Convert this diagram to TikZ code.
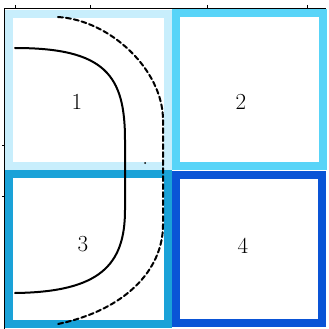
\documentclass[tikz,border=0pt]{standalone}
\usepackage{xcolor}
\definecolor{paleblue}{RGB}{200,238,252}
\definecolor{skyblue}{RGB}{88,212,248}
\definecolor{midblue}{RGB}{26,162,216}
\definecolor{deepblue}{RGB}{10,84,214}
\begin{document}
\begin{tikzpicture}[x=1pt,y=-1pt,
    cell/.style={line width=8pt},
    num/.style={font=\fontsize{23}{27}\selectfont},
    bound/.style={line width=2pt,line cap=round}]
	\useasboundingbox (0,0) rectangle (329,329);
	\fill[white] (0,0) rectangle (329,329);
	
	\draw[line width=1pt] (4,329) -- (4,9) -- (326,9);
	\foreach \t in {15,90,207,307} \draw[line width=1pt] (\t,5) -- (\t,9);
	\foreach \t in {145,196} \draw[line width=1pt] (2,\t) -- (4,\t);
	
	\draw[cell,paleblue] (9,14) rectangle (168,166);
	\draw[cell,skyblue] (176,13) rectangle (323,166);
	\draw[cell,midblue] (9,174) rectangle (168,324);
	\draw[cell,deepblue] (176,175) rectangle (322,323);
	
	\node[num] (one) at (77,102) {1};
	\node[num] (two) at (241,102) {2};
	\node[num] (three) at (83,244) {3};
	\node[num] (four) at (243,246) {4};
	
	\draw[bound] (15,48) .. controls (105,48) and (125,75) .. (125,140) -- (125,210)
		.. controls (125,265) and (100,292) .. (15,293);
	\draw[bound,dash pattern=on 5pt off 3pt] (58,17) .. controls (110,20) and (163,70) .. (163,120) -- (163,225)
		.. controls (163,270) and (125,310) .. (58,324);
	\fill (145,163) circle (1pt);
\end{tikzpicture}
\end{document}
